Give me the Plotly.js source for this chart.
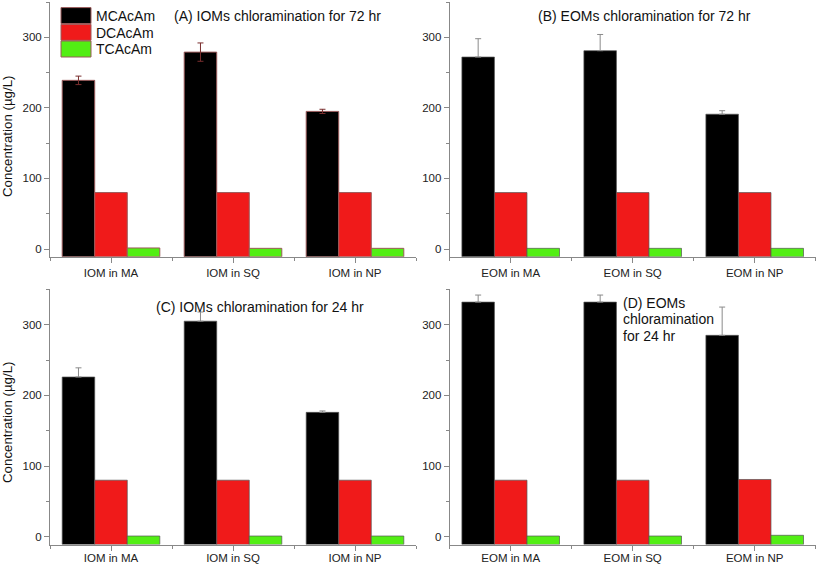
<!DOCTYPE html>
<html>
<head>
<meta charset="utf-8">
<script src="https://cdn.plot.ly/plotly-3.0.1.min.js"></script>
<style>html,body{margin:0;padding:0;background:#fff;}#chart{width:817px;height:564px;}</style>
</head>
<body>
<div id="chart"></div>
<script>
// ---- data ----
const seriesNames = ['MCAcAm', 'DCAcAm', 'TCAcAm'];
const categoriesIOM = ['IOM in MA', 'IOM in SQ', 'IOM in NP'];
const categoriesEOM = ['EOM in MA', 'EOM in SQ', 'EOM in NP'];

// (A) IOMs chloramination for 72 hr
const mcA = [239, 279, 195];
const mcAErr = [6, 13, 3];
const dcA = [80, 80, 80];
const tcA = [1.5, 1, 1];
// (B) EOMs chloramination for 72 hr
const mcB = [272, 281, 191];
const mcBErr = [26, 23, 5];
const dcB = [80, 80, 80];
const tcB = [1, 1, 1];
// (C) IOMs chloramination for 24 hr
const mcC = [226, 305, 176];
const mcCErr = [13, 13, 2];
const dcC = [80, 80, 80];
const tcC = [1, 1, 1];
// (D) EOMs chloramination for 24 hr
const mcD = [332, 332, 285];
const mcDErr = [10, 10, 40];
const dcD = [80, 80, 81];
const tcD = [1, 1, 2];

const yTicks = [0, 100, 200, 300];
const panelTitles = ['(A) IOMs chloramination for 72 hr', '(B) EOMs chloramination for 72 hr',
  '(C) IOMs chloramination for 24 hr', ['(D) EOMs', 'chloramination', 'for 24 hr']];
const yTitle = 'Concentration (µg/L)';

// ---- styling ----
const FONT = 'Liberation Sans, Arial, sans-serif';
const colors = ['#000000', '#f01a1a', '#52ee14'];
const Y_MIN = -11, Y_MAX = 350;

const idx = arr => arr.map((_, i) => i);

function panelTraces(cats, mc, mcErr, dc, tc, xa, ya, first, symmetric) {
  const vals = [mc, dc, tc];
  const outline = first ? '#9a5a5a' : '#555555';
  return vals.map((v, k) => {
    const t = {
      type: 'bar', name: seriesNames[k], x: idx(cats), y: v.map(val => val - Y_MIN), base: Y_MIN,
      xaxis: xa, yaxis: ya, showlegend: first,
      marker: {color: colors[k], line: {color: outline, width: first ? 1 : 0.7}},
      hovertext: v.map(String), hoverinfo: 'text'
    };
    if (k === 0) {
      t.error_y = symmetric
        ? {type: 'data', array: mcErr, visible: true, color: '#7a2e2e', thickness: 1, width: 3}
        : {type: 'data', symmetric: false, array: mcErr, arrayminus: mcErr.map(() => 0), visible: true, color: '#8a8a8a', thickness: 1, width: 3};
    }
    return t;
  });
}

const data = [
  ...panelTraces(categoriesIOM, mcA, mcAErr, dcA, tcA, 'x', 'y', true, true),
  ...panelTraces(categoriesEOM, mcB, mcBErr, dcB, tcB, 'x2', 'y2', false, false),
  ...panelTraces(categoriesIOM, mcC, mcCErr, dcC, tcC, 'x3', 'y3', false, false),
  ...panelTraces(categoriesEOM, mcD, mcDErr, dcD, tcD, 'x4', 'y4', false, false)
];

function xAxis(cats, domain, anchor, standoff) {
  return {
    domain: domain, anchor: anchor, range: [-0.5, cats.length - 0.5],
    tickmode: 'array', tickvals: idx(cats), ticktext: cats,
    ticks: 'outside', ticklen: 5, tickcolor: '#888', tickwidth: 1,
    minor: {tickmode: 'array', tickvals: [-0.5, 0.5, 1.5, 2.5], ticks: 'outside', ticklen: 3, tickcolor: '#888'},
    showline: true, linecolor: '#888', linewidth: 1, showgrid: false, zeroline: false,
    ticklabelstandoff: standoff,
    tickfont: {family: FONT, size: 11.5, color: '#222'}, fixedrange: true
  };
}
function yAxis(domain, anchor) {
  return {
    domain: domain, anchor: anchor, range: [Y_MIN, Y_MAX],
    tickmode: 'array', tickvals: yTicks,
    ticks: 'outside', ticklen: 5, tickcolor: '#888', tickwidth: 1,
    minor: {dtick: 50, tick0: 0, ticks: 'outside', ticklen: 3, tickcolor: '#888'},
    showline: true, linecolor: '#888', linewidth: 1, showgrid: false, zeroline: false,
    tickfont: {family: FONT, size: 11.5, color: '#222'}, fixedrange: true
  };
}

const W = 817, H = 564;
const px = v => v / W, py = v => 1 - v / H;
const xdL = [px(50), px(416)], xdR = [px(449.7), px(815.7)];
const ydT = [py(256.8), py(2)], ydB = [py(544.5), py(289.4)];

const annFont = {family: FONT, size: 14, color: '#111'};
const annotations = [
  {text: panelTitles[0], x: px(171.5), y: py(15.7), xanchor: 'left', yanchor: 'middle'},
  {text: panelTitles[1], x: px(536.3), y: py(15.7), xanchor: 'left', yanchor: 'middle'},
  {text: panelTitles[2], x: px(154.3), y: py(307), xanchor: 'left', yanchor: 'middle'},
  {text: panelTitles[3][0], x: px(620.7), y: py(302.7), xanchor: 'left', yanchor: 'middle'},
  {text: panelTitles[3][1], x: px(620.7), y: py(319.3), xanchor: 'left', yanchor: 'middle'},
  {text: panelTitles[3][2], x: px(620.7), y: py(336), xanchor: 'left', yanchor: 'middle'},
  {text: yTitle, x: px(7), y: py(137), textangle: -90, xanchor: 'center', yanchor: 'middle', font: {family: FONT, size: 13.3, color: '#111'}},
  {text: yTitle, x: px(7), y: py(423), textangle: -90, xanchor: 'center', yanchor: 'middle', font: {family: FONT, size: 13.3, color: '#111'}}
].map(a => Object.assign({xref: 'paper', yref: 'paper', showarrow: false, font: annFont}, a));

const layout = {
  width: W, height: H, margin: {l: 0, r: 0, t: 0, b: 0},
  paper_bgcolor: '#fff', plot_bgcolor: 'rgba(0,0,0,0)',
  barmode: 'group', bargap: 0.2, bargroupgap: 0,
  showlegend: true,
  legend: {x: px(56), y: py(0), xanchor: 'left', yanchor: 'top', bgcolor: 'rgba(0,0,0,0)',
    font: {family: FONT, size: 14, color: '#111'}, itemwidth: 30, tracegroupgap: 0},
  xaxis: xAxis(categoriesIOM, xdL, 'y', 0), yaxis: yAxis(ydT, 'x'),
  xaxis2: xAxis(categoriesEOM, xdR, 'y2', 0), yaxis2: yAxis(ydT, 'x2'),
  xaxis3: xAxis(categoriesIOM, xdL, 'y3', -2), yaxis3: yAxis(ydB, 'x3'),
  xaxis4: xAxis(categoriesEOM, xdR, 'y4', -2), yaxis4: yAxis(ydB, 'x4'),
  annotations: annotations,
  font: {family: FONT}
};

Plotly.newPlot('chart', data, layout, {staticPlot: true, displayModeBar: false}).then(gd => {
  // wide legend swatches and tighter rows, as in the original figure
  gd.querySelectorAll('.legend .legendpoints path').forEach(p => p.setAttribute('d', 'M15,8H-15V-8H15Z'));
  const items = Array.from(gd.querySelectorAll('.legend .traces'));
  if (items.length) {
    const parse = el => {
      const m = /translate\(\s*([-\d.]+)[ ,]+([-\d.]+)/.exec(el.getAttribute('transform') || '');
      return m ? [parseFloat(m[1]), parseFloat(m[2])] : [0, 0];
    };
    const [x0, y0] = parse(items[0]);
    items.forEach((el, i) => {
      const [xi] = parse(el);
      el.setAttribute('transform', 'translate(' + xi + ',' + (y0 + i * 16.7) + ')');
    });
  }
});
</script>
</body>
</html>
